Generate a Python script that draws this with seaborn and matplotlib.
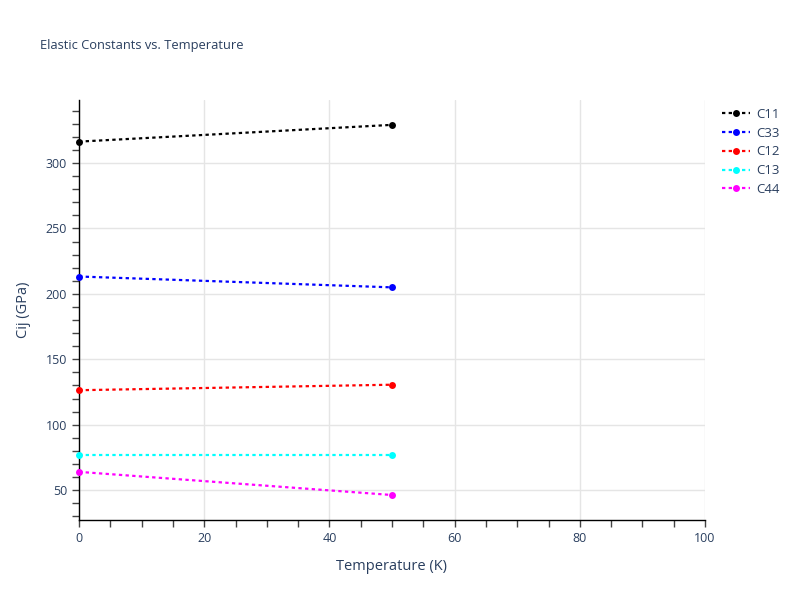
import matplotlib.pyplot as plt
import pandas as pd
import seaborn as sns
from matplotlib.ticker import MultipleLocator

# Values
temperature = [0, 50]
c11 = [316.4, 329.2]
c33 = [213.3, 205.0]
c12 = [126.4, 130.6]
c13 = [76.7, 76.7]
c44 = [64.0, 46.3]

series_names = ["C11", "C33", "C12", "C13", "C44"]
series_values = [c11, c33, c12, c13, c44]
colors = {"C11": "black", "C33": "blue", "C12": "red", "C13": "cyan", "C44": "magenta"}

rows = []
for name, vals in zip(series_names, series_values):
    for t, v in zip(temperature, vals):
        rows.append({"Temperature": t, "Value": v, "Constant": name})
df = pd.DataFrame(rows)

sns.set_theme(style="white")
plt.rcParams["font.family"] = ["Open Sans", "DejaVu Sans"]
text_color = "#2a3f5f"
dot_style = (0, (1.5, 1.5))

fig = plt.figure(figsize=(8, 6), dpi=100)
ax = fig.add_axes([79 / 800, 80 / 600, 626 / 800, 420 / 600])

sns.lineplot(
    data=df,
    x="Temperature",
    y="Value",
    hue="Constant",
    hue_order=series_names,
    palette=colors,
    marker="o",
    markersize=5,
    markeredgewidth=0,
    linestyle=dot_style,
    linewidth=1.6,
    ax=ax,
    legend=False,
    clip_on=False,
    zorder=3,
)

ax.set_xlim(0, 100)
ax.set_ylim(27.2, 348.2)
ax.xaxis.set_major_locator(MultipleLocator(20))
ax.xaxis.set_minor_locator(MultipleLocator(5))
ax.yaxis.set_major_locator(MultipleLocator(50))
ax.yaxis.set_minor_locator(MultipleLocator(10))
ax.grid(True, which="major", color="#e5e5e5", linewidth=1)
ax.set_axisbelow(True)

for side in ["top", "right"]:
    ax.spines[side].set_visible(False)
for side in ["left", "bottom"]:
    ax.spines[side].set_color("black")
    ax.spines[side].set_linewidth(1)

ax.tick_params(which="both", direction="out", color="#444444", labelcolor=text_color,
               labelsize=9, bottom=True, left=True)
ax.tick_params(which="major", length=5, width=1)
ax.tick_params(which="minor", length=5, width=1)

ax.set_xlabel("Temperature (K)", fontsize=10.5, color=text_color, labelpad=10)
ax.set_ylabel("Cij (GPa)", fontsize=10.5, color=text_color, labelpad=11)

fig.text(40 / 800, 1 - 46 / 600, "Elastic Constants vs. Temperature",
         fontsize=9.3, color=text_color, va="center", ha="left")

# Legend outside, top right
handles = [
    plt.Line2D([0], [0], color=colors[n], linestyle=dot_style, linewidth=1.6,
               marker="o", markersize=5, markeredgewidth=0)
    for n in series_names
]
leg = fig.legend(handles, series_names, loc="upper left",
                 bbox_to_anchor=(710 / 800, 1 - 96 / 600), frameon=False,
                 fontsize=9.5, handlelength=2.1, labelspacing=0.44, handletextpad=0.53)
for t in leg.get_texts():
    t.set_color(text_color)

fig.savefig("out.png", dpi=100)
